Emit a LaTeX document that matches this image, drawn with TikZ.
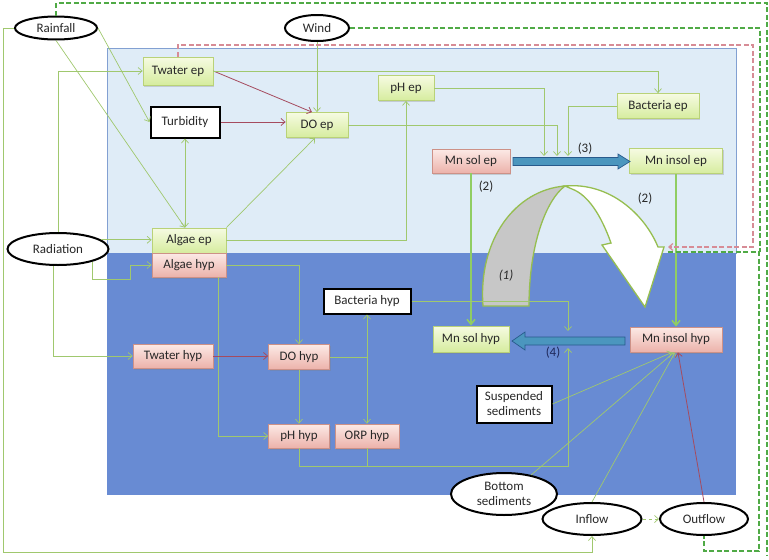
\documentclass[tikz,border=0pt]{standalone}
\usepackage{fontspec}
\setmainfont{Carlito}
\usetikzlibrary{arrows.meta,shapes.geometric,shadows,calc}
\definecolor{gtop}{RGB}{246,251,226}
\definecolor{gbot}{RGB}{214,236,158}
\definecolor{gline}{RGB}{185,210,120}
\definecolor{ptop}{RGB}{252,234,230}
\definecolor{pbot}{RGB}{236,178,170}
\definecolor{pline}{RGB}{205,145,135}
\definecolor{lg}{RGB}{160,200,110}
\definecolor{brn}{RGB}{165,75,95}
\definecolor{dg}{RGB}{80,170,70}
\definecolor{pk}{RGB}{215,140,150}
\definecolor{epfill}{RGB}{223,236,247}
\definecolor{epline}{RGB}{130,160,210}
\definecolor{hypfill}{RGB}{104,139,211}
\definecolor{barrow}{RGB}{75,150,190}
\definecolor{barline}{RGB}{40,90,140}
\definecolor{archg}{RGB}{150,190,80}
\definecolor{txt}{RGB}{40,40,40}
\tikzset{
  boxbase/.style={rectangle, inner sep=0pt, text=txt,
    drop shadow={shadow xshift=1.2pt, shadow yshift=-1.5pt, opacity=0.3}},
  gbox/.style={boxbase, draw=gline, line width=0.8pt, top color=gtop, bottom color=gbot},
  pbox/.style={boxbase, draw=pline, line width=0.8pt, top color=ptop, bottom color=pbot},
  wbox/.style={rectangle, inner sep=0pt, text=txt, draw=black, line width=2pt, fill=white},
  ell/.style={ellipse, inner sep=0pt, text=txt, draw=black, line width=2pt, fill=white},
  conn/.style={draw=lg, line width=0.7pt, -{Straight Barb[length=4pt,width=7pt]}},
  bothconn/.style={draw=lg, line width=0.7pt, {Straight Barb[length=4pt,width=7pt]}-{Straight Barb[length=4pt,width=7pt]}},
  thickconn/.style={draw=lg!90!green, line width=1.6pt, -{Straight Barb[length=5pt,width=8pt]}},
  bconn/.style={draw=brn, line width=0.8pt, -{Straight Barb[length=4pt,width=7pt]}},
  gdash/.style={draw=dg, line width=1.4pt, dash pattern=on 5pt off 2.5pt},
  pdash/.style={draw=pk, line width=1.2pt, dash pattern=on 5pt off 2.5pt},
  barr/.style={fill=barrow, draw=barline, line width=0.7pt},
  lab/.style={inner sep=0pt, text=txt}
}
\begin{document}
\begin{tikzpicture}[x=1pt,y=-1pt, font=\fontsize{13}{15}\selectfont]
\useasboundingbox (0,0) rectangle (769,560);
% backgrounds
\filldraw[fill=epfill, draw=epline, line width=0.6pt] (107,48) rectangle (736,253);
\fill[hypfill] (107,253) rectangle (736,495);

% big curved arrow (1)
\filldraw[fill=black!22, draw=archg, line width=1.3pt]
  (483,306) .. controls (478,240) and (515,190) .. (565,186)
  .. controls (546,200) and (529,245) .. (529,306) -- cycle;
\filldraw[fill=white, draw=archg, line width=1.3pt]
  (565,186) .. controls (610,182) and (645,215) .. (658,247) -- (664,247) -- (645,307)
  -- (602,245) -- (611,243) .. controls (601,215) and (588,195) .. (572,189) -- cycle;

% nodes
\node[ell, minimum width=82pt, minimum height=23pt] (rain) at (56,28) {Rainfall};
\node[ell, minimum width=64pt, minimum height=26pt] (wind) at (317,28) {Wind};
\node[ell, minimum width=101pt, minimum height=32pt] (rad) at (58,249) {Radiation};
\node[ell, minimum width=106pt, minimum height=42pt, align=center, font=\fontsize{13}{15}\selectfont] (bot) at (504,494) {Bottom\\sediments};
\node[ell, minimum width=99pt, minimum height=32pt] (inflow) at (592,519) {Inflow};
\node[ell, minimum width=88pt, minimum height=32pt] (outflow) at (704,519) {Outflow};

\node[gbox, minimum width=70pt, minimum height=28pt] (twep) at (178,71) {Twater ep};
\node[wbox, minimum width=69pt, minimum height=31pt] (turb) at (185,122) {Turbidity};
\node[gbox, minimum width=62pt, minimum height=25pt] (doep) at (317,125) {DO ep};
\node[gbox, minimum width=56pt, minimum height=25pt] (phep) at (406,88) {pH ep};
\node[pbox, minimum width=78pt, minimum height=24pt] (mnsolep) at (471,161) {Mn sol ep};
\node[gbox, minimum width=82pt, minimum height=25pt] (bacep) at (658,106) {Bacteria ep};
\node[gbox, minimum width=93pt, minimum height=25pt] (mninsolep) at (676,161) {Mn insol ep};
\node[gbox, minimum width=74pt, minimum height=25pt] (algep) at (189,240.5) {Algae ep};
\node[pbox, minimum width=74pt, minimum height=24pt] (alghyp) at (189,265) {Algae hyp};
\node[pbox, minimum width=80pt, minimum height=24pt] (twhyp) at (173,356) {Twater hyp};
\node[pbox, minimum width=61pt, minimum height=25pt] (dohyp) at (299,357) {DO hyp};
\node[wbox, minimum width=87pt, minimum height=25pt] (bachyp) at (367,301) {Bacteria hyp};
\node[gbox, minimum width=76pt, minimum height=26pt] (mnsolhyp) at (471,339) {Mn sol hyp};
\node[pbox, minimum width=61pt, minimum height=24pt] (phhyp) at (299,436) {pH hyp};
\node[pbox, minimum width=64pt, minimum height=24pt] (orphyp) at (367,436) {ORP hyp};
\node[pbox, minimum width=92pt, minimum height=25pt] (mninsolhyp) at (676,339.5) {Mn insol hyp};
\node[wbox, minimum width=75pt, minimum height=37pt, align=center, font=\fontsize{13}{15}\selectfont] (susp) at (514,404) {Suspended\\sediments};

% free ends
\coordinate (a3a) at (544,156);
\coordinate (a3b) at (557,156);
\coordinate (a3c) at (568,156);
\coordinate (a4t) at (568,331);
\coordinate (a4b) at (568,348);
\coordinate (j4) at (568,466);
\coordinate (pkend) at (668,247);
\coordinate (gdend) at (668,252);

% blue process arrows
\filldraw[barr] (513,157.5) -- (618,157.5) -- (618,154) -- (630,161.5) -- (618,169) -- (618,165.5) -- (513,165.5) -- cycle;
\filldraw[barr] (625,337) -- (525,337) -- (525,332) -- (512,341) -- (525,350) -- (525,345) -- (625,345) -- cycle;

% connectors: epilimnion
\draw[conn] (rain.east) -- (turb.west);
\draw[conn] (rain.south) -- ([xshift=-4pt]algep.north);
\draw[conn] (rad.north) |- (twep.west);
\draw[conn] (rad.12) -- (rad.12 -| algep.west);
\draw[conn] (rad.-20) |- (130,279) |- (alghyp.west);
\draw[conn] ([xshift=-5pt]rad.south) |- (twhyp.west);
\draw[conn] (rain.west) -| (3,552) -| (inflow.south);
\draw[conn] (wind.south) -- (doep.north);
\draw[bconn] (twep.east) -- ([xshift=-5pt]doep.north);
\draw[bconn] (turb.east) -- (turb.east -| doep.west);
\draw[conn] (twep.east) -| (bacep.north);
\draw[conn] (algep.north east) -- ([xshift=-2pt]doep.south);
\draw[conn] (algep.east) -| (phep.south);
\draw[bothconn] (turb.south |- algep.north) -- (turb.south);
\draw[conn] (doep.east) -| (a3b);
\draw[conn] (phep.east) -| (a3a);
\draw[conn] (bacep.west) -| (a3c);
\draw[thickconn] (mnsolep.south) -- (mnsolhyp.north);
\draw[thickconn] (mninsolep.south) -- (mninsolhyp.north);

% connectors: hypolimnion
\draw[conn] (alghyp.east) -| (dohyp.north);
\draw[conn] ([xshift=29pt]alghyp.south) |- (phhyp.west);
\draw[bconn] (twhyp.east) -- (twhyp.east -| dohyp.west);
\draw[conn] (dohyp.south) -- (phhyp.north);
\draw[conn] (dohyp.east) -| (bachyp.south);
\draw[conn] (dohyp.east) -| (orphyp.north);
\draw[conn] (bachyp.east) -| (a4t);
\draw[conn] (phhyp.south) |- (j4) -- (a4b);
\draw[draw=lg, line width=0.7pt] (orphyp.south) -- (orphyp.south |- j4);
\draw[conn] (susp.east) -- ([xshift=-4pt]mninsolhyp.south);
\draw[conn] (bot.35) -- ([xshift=-2pt]mninsolhyp.south);
\draw[conn] (inflow.north) -- ([xshift=-1pt]mninsolhyp.south);
\draw[bconn] (outflow.north) -- ([xshift=2pt]mninsolhyp.south);
\draw[conn, dashed] (inflow.east) -- (outflow.west);

% dashed feedback lines
\draw[pdash, -{Straight Barb[length=4pt,width=7pt]}] (twep.north) |- (753,45) |- (pkend);
\draw[gdash] (rain.north) |- (767,3) -- (767,556);
\draw[gdash] (wind.east) -- (760,28) -- (760,252);
\draw[gdash] (gdend) -- (759,252) -- (759,551) -| (outflow.south);

% labels
\node[lab] at (585,149) {(3)};
\node[lab] at (486,187) {(2)};
\node[lab] at (645,199) {(2)};
\node[lab, font=\fontsize{13}{15}\selectfont\itshape] at (506,276) {(1)};
\node[lab, text={rgb,255:red,30;green,40;blue,90}] at (553,353) {(4)};
\end{tikzpicture}
\end{document}
